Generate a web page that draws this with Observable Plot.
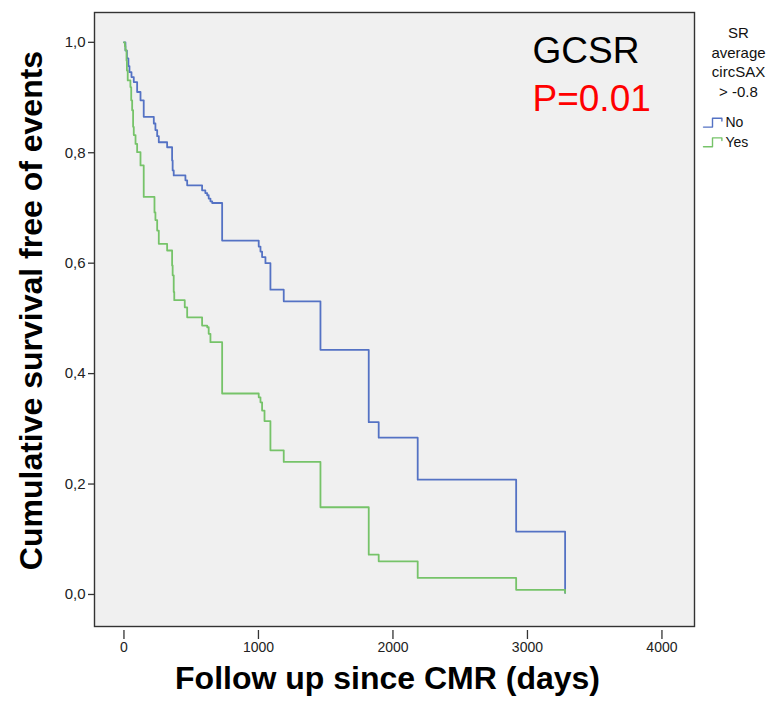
<!DOCTYPE html>
<html>
<head>
<meta charset="utf-8">
<script src="https://cdn.jsdelivr.net/npm/d3@7"></script>
<script src="https://cdn.jsdelivr.net/npm/@observablehq/plot@0.6"></script>
<style>
  html, body { margin: 0; padding: 0; background: #fff; }
  #wrap { position: relative; width: 771px; height: 703px; }
  #legend { position: absolute; left: 700px; top: 110px; }
  svg { font-family: "Liberation Sans", Arial, sans-serif; }
</style>
</head>
<body>
<div id="wrap"><div id="chart"></div><div id="legend"></div></div>
<script>
// Kaplan-Meier: group "No" (SR average circSAX > -0.8 = No)
const noDays = [0, 11, 22, 33, 41, 56, 73, 98, 123, 147, 222, 234, 247, 259, 321, 358, 362, 370, 457, 470, 581, 605, 619, 630, 643, 656, 730, 1002, 1015, 1027, 1052, 1089, 1188, 1461, 1820, 1894, 2184, 2916, 3280];
const noSurv = [1.0, 0.985, 0.971, 0.957, 0.946, 0.937, 0.928, 0.910, 0.895, 0.865, 0.853, 0.841, 0.830, 0.819, 0.810, 0.786, 0.768, 0.759, 0.750, 0.741, 0.732, 0.727, 0.723, 0.717, 0.712, 0.709, 0.641, 0.630, 0.621, 0.611, 0.600, 0.552, 0.531, 0.443, 0.312, 0.284, 0.208, 0.114, 0.003];
// group "Yes"
const yesDays = [0, 7, 11, 19, 22, 28, 48, 54, 61, 68, 73, 86, 98, 123, 147, 227, 234, 247, 259, 321, 358, 362, 370, 374, 452, 470, 581, 619, 630, 643, 730, 1002, 1015, 1027, 1045, 1089, 1188, 1461, 1820, 1894, 2184, 2916, 3280];
const yesSurv = [1.0, 0.993, 0.986, 0.967, 0.949, 0.931, 0.919, 0.895, 0.877, 0.847, 0.832, 0.816, 0.801, 0.777, 0.720, 0.692, 0.678, 0.659, 0.635, 0.623, 0.596, 0.578, 0.548, 0.533, 0.520, 0.502, 0.487, 0.484, 0.472, 0.457, 0.364, 0.357, 0.348, 0.333, 0.314, 0.261, 0.240, 0.158, 0.072, 0.060, 0.030, 0.0085, 0.003];

const groups = ["No", "Yes"];
const groupColors = ["#5472c4", "#76c369"];
const xTicks = [0, 1000, 2000, 3000, 4000];
const yTicks = [0, 0.2, 0.4, 0.6, 0.8, 1.0];
const legendTitle = "SR\naverage\ncircSAX\n> -0.8";
const annotationTitle = "GCSR";
const annotationP = "P=0.01";

const rows = [
  ...noDays.map((d, i) => ({group: "No", day: d, surv: noSurv[i]})),
  ...yesDays.map((d, i) => ({group: "Yes", day: d, surv: yesSurv[i]}))
];

const font = "Liberation Sans, Arial, sans-serif";

const chart = Plot.plot({
  width: 771,
  height: 703,
  marginLeft: 94,
  marginRight: 77,
  marginTop: 12,
  marginBottom: 77,
  style: {fontFamily: font, background: "#ffffff"},
  x: {domain: [-219, 4242]},
  y: {domain: [-0.058, 1.054]},
  color: {domain: groups, range: groupColors},
  marks: [
    Plot.frame({fill: "#f0f0f0"}),
    Plot.line(rows, {x: "day", y: "surv", z: "group", stroke: "group", curve: "step-after", strokeWidth: 1.8}),
    Plot.frame({stroke: "#333333", strokeWidth: 1.4}),
    Plot.axisY(yTicks, {tickSize: 6, tickPadding: 3, fontSize: 15, fill: "#222", stroke: "#333", strokeWidth: 1.3,
      tickFormat: d => d.toFixed(1).replace(".", ","), label: null}),
    Plot.axisX(xTicks, {tickSize: 9, tickPadding: 3, dy: 4, fontSize: 14, fill: "#222", stroke: "#333", strokeWidth: 1.3,
      tickFormat: d => String(d), label: null}),
    Plot.text(["Cumulative survival free of events"], {frameAnchor: "left", textAnchor: "middle", rotate: -90, dx: -63, dy: -9,
      fontSize: 32, fontWeight: "bold", fill: "#000", text: d => d}),
    Plot.text(["Follow up since CMR (days)"], {frameAnchor: "bottom", textAnchor: "middle", dx: -7, dy: 62,
      fontSize: 32, fontWeight: "bold", fill: "#000", text: d => d}),
    Plot.text([annotationTitle], {frameAnchor: "top-left", textAnchor: "start", lineAnchor: "bottom", dx: 438, dy: 50,
      fontSize: 37, fill: "#000", text: d => d}),
    Plot.text([annotationP], {frameAnchor: "top-left", textAnchor: "start", lineAnchor: "bottom", dx: 438, dy: 98,
      fontSize: 37, fill: "#ff0000", text: d => d}),
    Plot.text([legendTitle], {frameAnchor: "top-right", textAnchor: "middle", lineAnchor: "top", dx: 44, dy: 12,
      fontSize: 15, lineHeight: 1.3, fill: "#111", text: d => d})
  ]
});
document.getElementById("chart").appendChild(chart);

// legend: step swatch + label per group
const swatchShape = [[0, 1], [0.45, 1], [0.45, 0], [0.92, 0], [0.92, 0.3]];
const swatchRows = groups.flatMap((g, i) => swatchShape.map(([sx, sy]) => ({group: g, sx, sy: i + sy * 0.45})));
const legend = Plot.plot({
  width: 71,
  height: 44,
  margin: 0,
  style: {fontFamily: font, background: "transparent"},
  x: {domain: [0, 1], range: [3, 23], axis: null},
  y: {domain: [-0.4, 1.85], range: [0, 44], axis: null},
  color: {domain: groups, range: groupColors},
  marks: [
    Plot.line(swatchRows, {x: "sx", y: "sy", z: "group", stroke: "group", strokeWidth: 1.4}),
    Plot.text(groups, {x: () => 1, y: (d, i) => i + 0.22, text: d => d, textAnchor: "start", dx: 2,
      fontSize: 14, fill: "#111"})
  ]
});
document.getElementById("legend").appendChild(legend);
</script>
</body>
</html>
